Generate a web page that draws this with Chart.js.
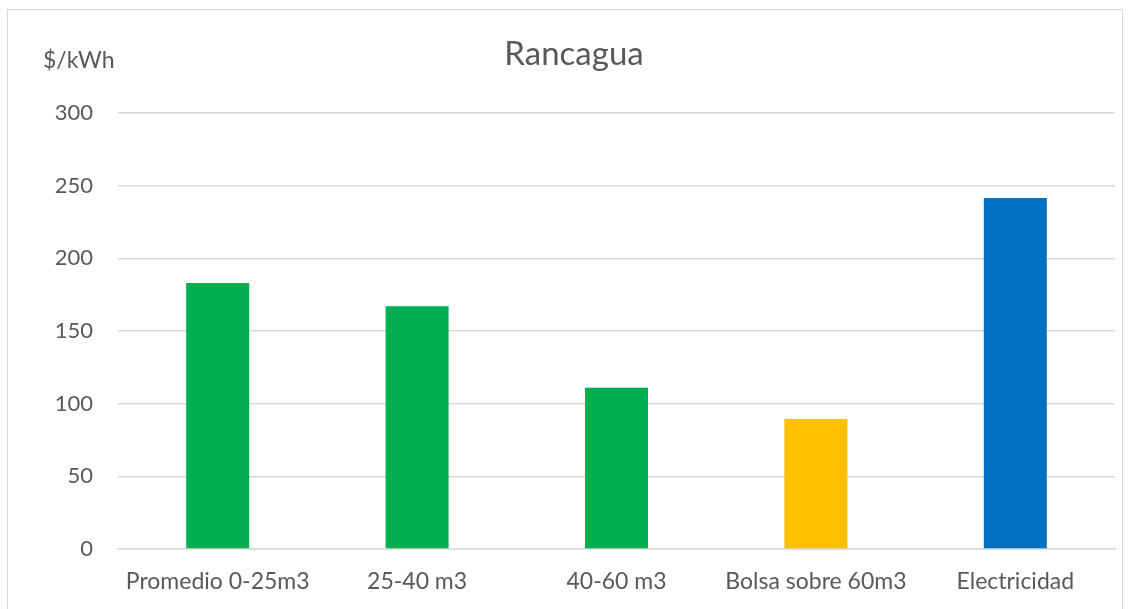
<!DOCTYPE html>
<html>
<head>
<meta charset="utf-8">
<script src="https://cdn.jsdelivr.net/npm/chart.js@4"></script>
<style>
  html, body { margin: 0; padding: 0; background: #fff; }
  body { width: 1131px; height: 609px; position: relative; overflow: hidden; }
  .frame {
    position: absolute; left: 7px; top: 9px; width: 1116px; height: 620px;
    border: 1.5px solid #d9d9d9; box-sizing: border-box;
  }
  #wrap { position: absolute; left: 0; top: 0; width: 1131px; height: 609px; }
</style>
</head>
<body>
<div class="frame"></div>
<div id="wrap"><canvas id="chart"></canvas></div>
<script>
// ============================================================
// DATA
// ============================================================

const categories = ["Promedio 0-25m3", "25-40 m3", "40-60 m3", "Bolsa sobre 60m3", "Electricidad"];
const values     = [183, 167, 111, 89.5, 241.5];
const barColors  = ["#00b050", "#00b050", "#00b050", "#ffc000", "#0070c0"];
const yTicks     = [0, 50, 100, 150, 200, 250, 300];

const chartTitle = "Rancagua";
const yUnit      = "$/kWh";

const FONT = "Lato, 'Open Sans', sans-serif";
const TEXT = "#595959";
const GRID = "#d9d9d9";

// ============================================================
// PLUGINS
// ============================================================

const headerText = {
  id: "headerText",
  afterDraw(chart) {
    const c = chart.ctx;
    c.save();
    c.fillStyle = TEXT;
    c.textBaseline = "middle";
    c.font = "33px " + FONT;
    c.textAlign = "center";
    c.fillText(chartTitle, 574, 54);
    c.font = "23px " + FONT;
    c.textAlign = "left";
    c.fillText(yUnit, 43, 61);
    c.restore();
  }
};

// ============================================================
// CHART
// ============================================================

new Chart(document.getElementById("chart"), {
  type: "bar",
  data: {
    labels: categories,
    datasets: [{
      data: values,
      backgroundColor: barColors,
      borderWidth: 0,
      barPercentage: 1,
      categoryPercentage: 0.316,
    }]
  },
  options: {
    responsive: true,
    maintainAspectRatio: false,
    animation: false,
    layout: { padding: { top: 113, right: 16, left: 0, bottom: 0 } },
    plugins: {
      legend: { display: false },
      tooltip: { enabled: false },
      title: { display: false }
    },
    scales: {
      x: {
        grid: { display: false, drawTicks: false },
        border: { color: GRID, width: 1.5 },
        ticks: { color: TEXT, font: { family: FONT, size: 23 }, padding: 19, maxRotation: 0 },
        afterFit: s => { s.height = 60; }
      },
      y: {
        min: 0,
        max: 300,
        afterBuildTicks: s => { s.ticks = yTicks.map(v => ({ value: v })); },
        grid: { color: GRID, lineWidth: 1.5, drawTicks: false },
        border: { display: false },
        ticks: { color: TEXT, font: { family: FONT, size: 22 }, padding: 25 },
        afterFit: s => { s.width = 118; }
      }
    }
  },
  plugins: [headerText]
});
</script>
</body>
</html>
